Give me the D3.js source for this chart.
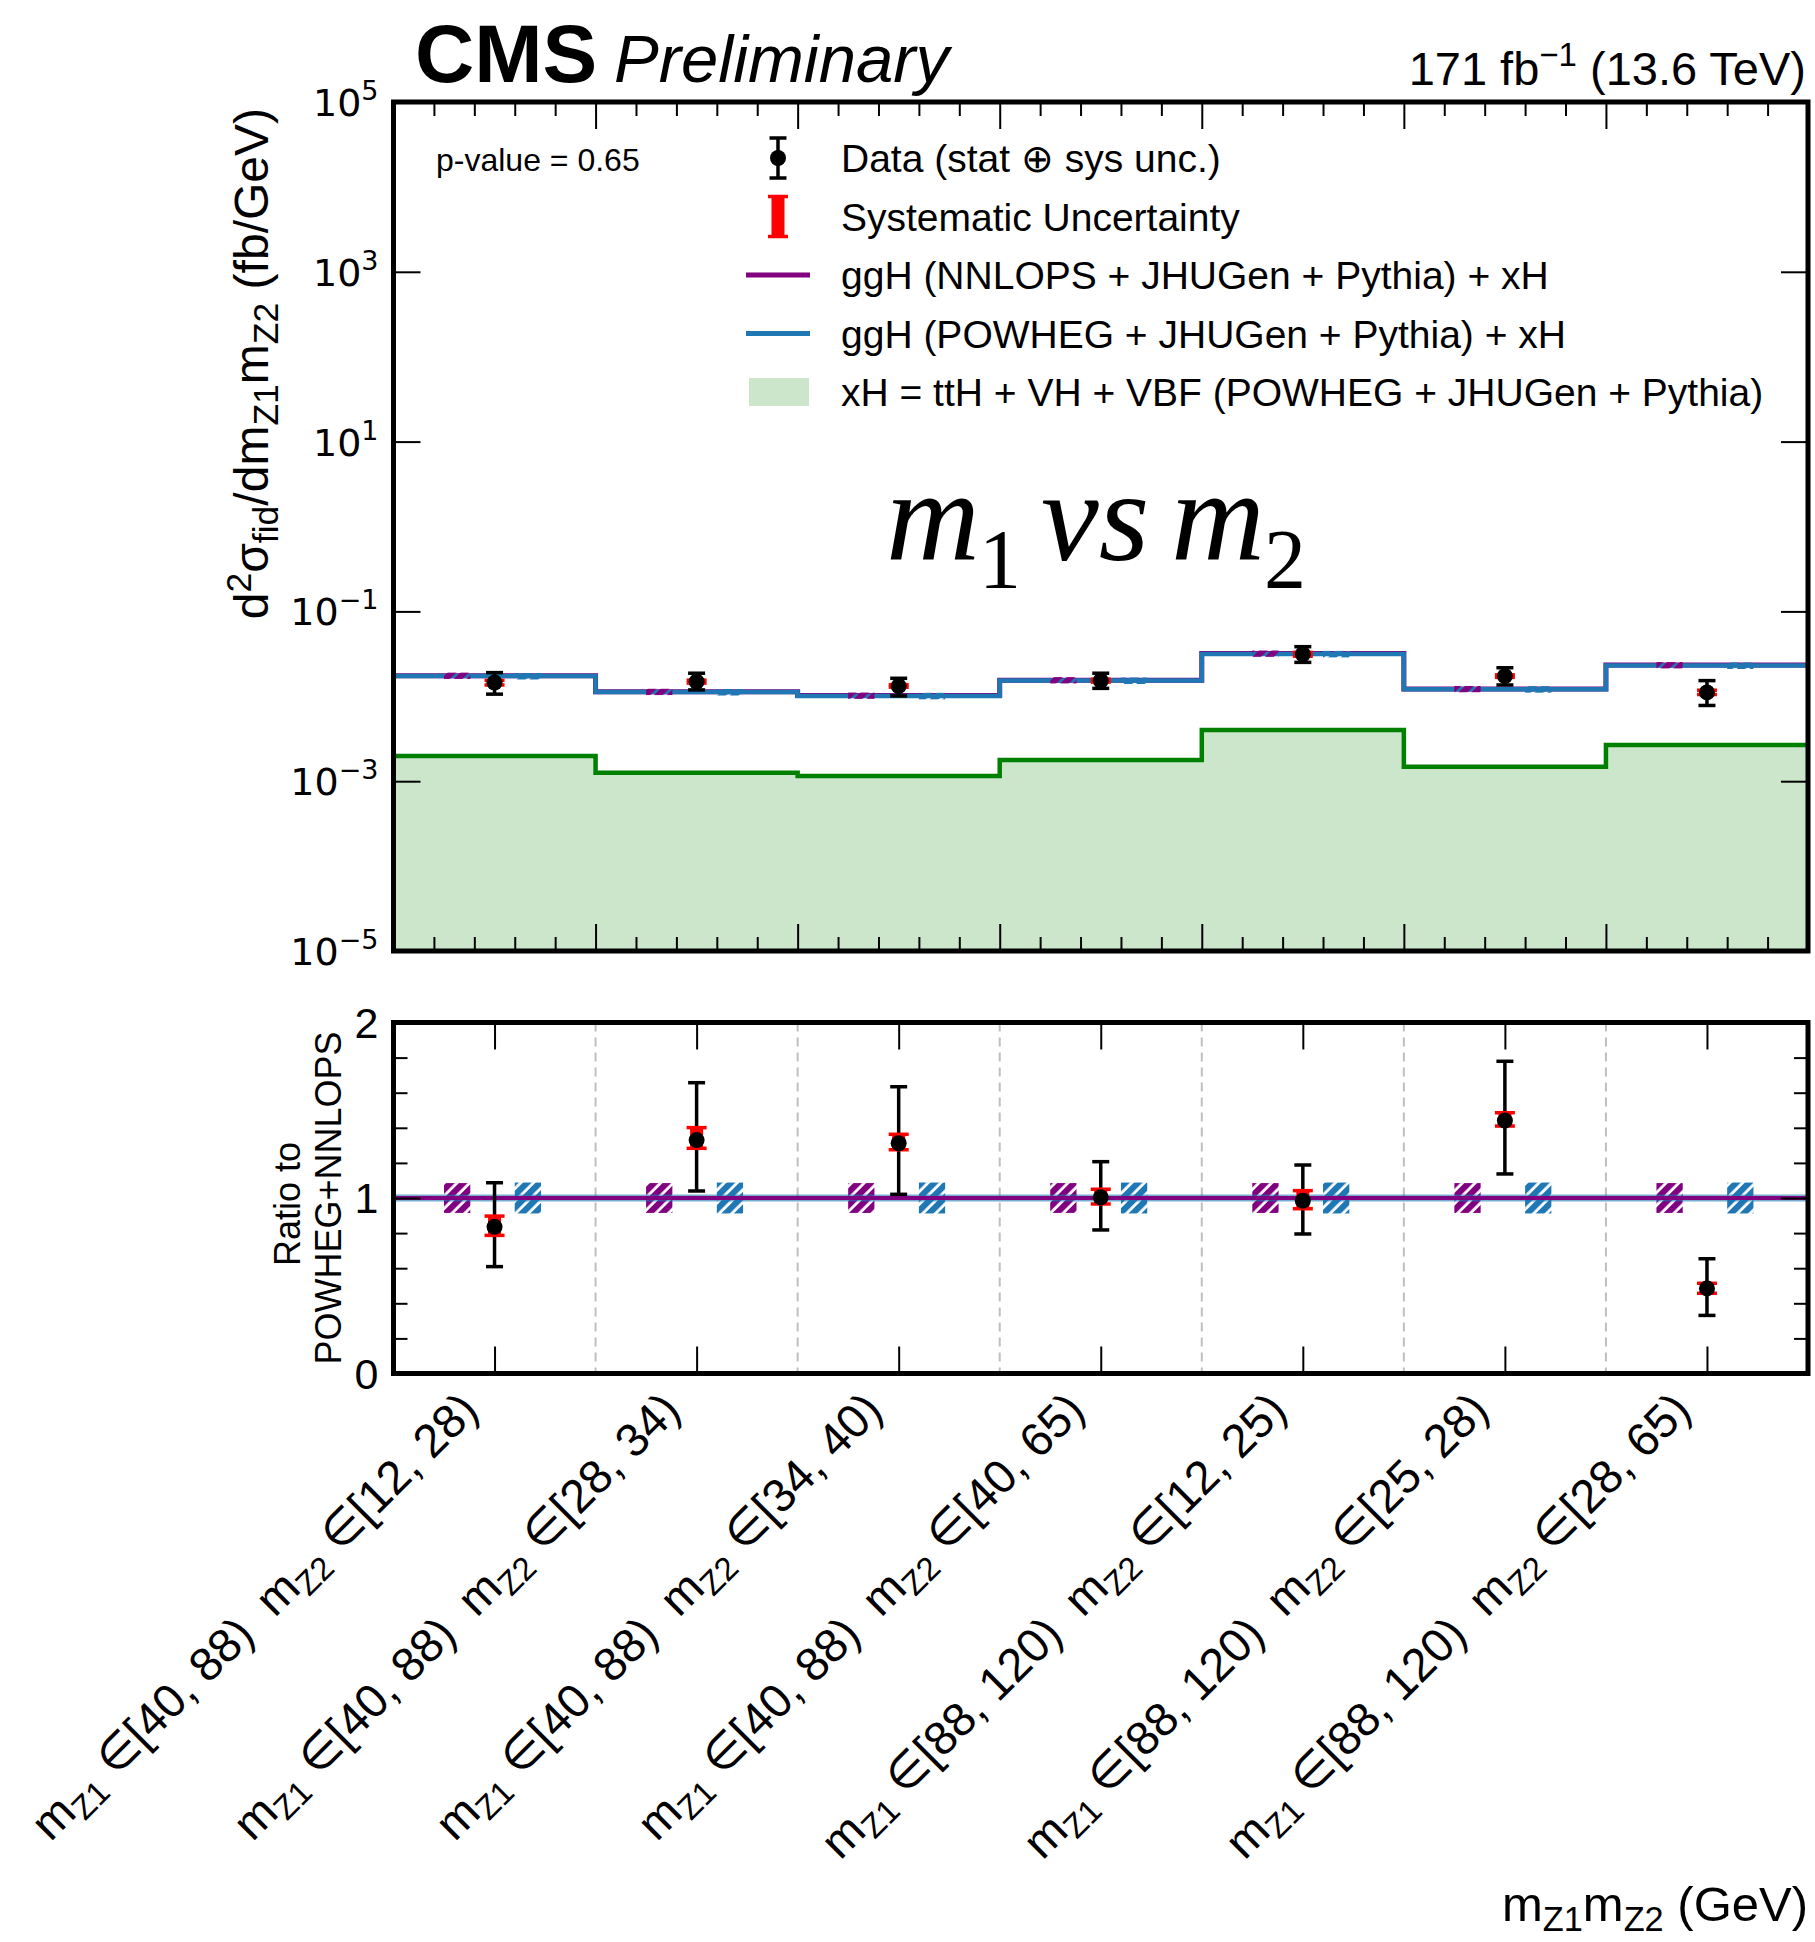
<!DOCTYPE html>
<html><head><meta charset="utf-8">
<script src="https://cdn.jsdelivr.net/npm/d3@7/dist/d3.min.js"></script>
<style>body{margin:0;background:#fff}svg{display:block}</style>
</head><body>
<svg id="c" width="1815" height="1942"></svg>
<script>
// ---------------- data ----------------
const categoriesZ1 = ["[40, 88)","[40, 88)","[40, 88)","[40, 88)","[88, 120)","[88, 120)","[88, 120)"];
const categoriesZ2 = ["[12, 28)","[28, 34)","[34, 40)","[40, 65)","[12, 25)","[25, 28)","[28, 65)"];
const binEdges = [0,1,2,3,4,5,6,7];
const powheg = [0.0173, 0.0112, 0.0101, 0.0153, 0.0315, 0.0121, 0.0230];
const nnlops = [0.0175, 0.0113, 0.0102, 0.0155, 0.0319, 0.0122, 0.0233];
const xH     = [0.00198, 0.00126, 0.00115, 0.00178, 0.00401, 0.00148, 0.00267];
const dataVal = [0.0145, 0.0149, 0.0132, 0.0153, 0.0313, 0.0173, 0.0111];
const dataLo  = [0.0106, 0.0119, 0.0101, 0.0124, 0.0251, 0.0136, 0.0078];
const dataHi  = [0.0190, 0.0187, 0.0163, 0.0187, 0.0384, 0.0217, 0.0153];
const systLo  = [0.0136, 0.0143, 0.0128, 0.0147, 0.0297, 0.0167, 0.0105];
const systHi  = [0.0154, 0.0155, 0.0137, 0.0159, 0.0329, 0.0179, 0.0118];
const ratioVal    = [0.836, 1.330, 1.312, 1.004, 0.985, 1.441, 0.485];
const ratioLo     = [0.609, 1.040, 1.021, 0.818, 0.795, 1.137, 0.331];
const ratioHi     = [1.087, 1.657, 1.634, 1.207, 1.188, 1.779, 0.654];
const ratioSystLo = [0.787, 1.283, 1.275, 0.966, 0.939, 1.410, 0.457];
const ratioSystHi = [0.897, 1.401, 1.363, 1.050, 1.042, 1.486, 0.514];
const nnlopsBandLo = [0.915, 0.915, 0.915, 0.915, 0.915, 0.915, 0.915];
const nnlopsBandHi = [1.085, 1.085, 1.085, 1.085, 1.085, 1.085, 1.085];
const powhegBandLo = [0.912, 0.912, 0.912, 0.912, 0.912, 0.912, 0.912];
const powhegBandHi = [1.088, 1.088, 1.088, 1.088, 1.088, 1.088, 1.088];
const ratioRef = 1;
const yTicksMain = [1e-5, 1e-3, 1e-1, 1e1, 1e3, 1e5];
const yTickExpMain = ["−5", "−3", "−1", "1", "3", "5"];
const yTicksRatio = [0, 1, 2];
const yTickLabelsRatio = ["0", "1", "2"];
const yMinorRatio = [0.2, 0.4, 0.6, 0.8, 1.2, 1.4, 1.6, 1.8];
const xMajorMain = [1, 2, 3, 4, 5, 6];
const xMinorMain = d3.range(0, 35).map(i => i * 0.2).filter(v => Math.abs(v - Math.round(v)) > 1e-6 && v > 0 && v < 7);
const legendLabels = ["Data (stat ⊕ sys unc.)", "Systematic Uncertainty", "ggH (NNLOPS + JHUGen + Pythia) + xH", "ggH (POWHEG + JHUGen + Pythia) + xH", "xH = ttH + VH + VBF (POWHEG + JHUGen + Pythia)"];
const pValueText = "p-value = 0.65";

// ---------------- layout ----------------
const C = {blue:"#1f77b4", purple:"#800080", green:"#008000", greenFill:"#cce6cc", red:"#ff0000"};
const X0 = 393.5, X1 = 1808, MT = 102, MB = 951, RT = 1022.5, RB = 1373.5;
const SANS = "'Liberation Sans', Arial, Helvetica, sans-serif";
const svg = d3.select("#c");
const x = d3.scaleLinear().domain([0, 7]).range([X0, X1]);
const yM = d3.scaleLog().domain([1e-5, 1e5]).range([MB, MT]);
const yR = d3.scaleLinear().domain([0, 2]).range([RB, RT]);
const centers = d3.range(7).map(i => (binEdges[i] + binEdges[i+1]) / 2);

// hatch patterns
const defs = svg.append("defs");
function hatch(id, col) {
  const p = defs.append("pattern").attr("id", id).attr("patternUnits", "userSpaceOnUse")
    .attr("width", 9).attr("height", 9).attr("patternTransform", "rotate(45)");
  p.append("rect").attr("x", 0).attr("y", 0).attr("width", 6.2).attr("height", 9).attr("fill", col);
}
hatch("hP", C.purple); hatch("hB", C.blue);
defs.append("clipPath").attr("id", "clipM").append("rect").attr("x", X0).attr("y", MT).attr("width", X1 - X0).attr("height", MB - MT);
defs.append("clipPath").attr("id", "clipR").append("rect").attr("x", X0).attr("y", RT).attr("width", X1 - X0).attr("height", RB - RT);

// ---------------- main panel ----------------
const gM = svg.append("g").attr("clip-path", "url(#clipM)");
const stepPts = arr => binEdges.map((e, i) => [e, arr[Math.min(i, arr.length - 1)]]);
const area = d3.area().curve(d3.curveStepAfter).x(d => x(d[0])).y0(yM(1e-5)).y1(d => yM(d[1]));
const line = d3.line().curve(d3.curveStepAfter).x(d => x(d[0])).y(d => yM(d[1]));
gM.append("path").attr("d", area(stepPts(xH))).attr("fill", C.greenFill);
gM.append("path").attr("d", line(stepPts(xH))).attr("fill", "none").attr("stroke", C.green).attr("stroke-width", 4.5);
gM.append("path").attr("d", line(stepPts(nnlops))).attr("fill", "none").attr("stroke", C.purple).attr("stroke-width", 5);
gM.append("path").attr("d", line(stepPts(powheg))).attr("fill", "none").attr("stroke", C.blue).attr("stroke-width", 4.5);
centers.forEach((c, i) => {
  gM.append("rect").attr("x", x(c - 0.25)).attr("width", x(c - 0.12) - x(c - 0.25))
    .attr("y", yM(nnlops[i] * nnlopsBandHi[i])).attr("height", yM(nnlops[i] * nnlopsBandLo[i]) - yM(nnlops[i] * nnlopsBandHi[i]))
    .attr("fill", "url(#hP)");
  gM.append("rect").attr("x", x(c + 0.10)).attr("width", x(c + 0.23) - x(c + 0.10))
    .attr("y", yM(powheg[i] * powhegBandHi[i])).attr("height", yM(powheg[i] * powhegBandLo[i]) - yM(powheg[i] * powhegBandHi[i]))
    .attr("fill", "url(#hB)");
});

function errPoint(g, cx, yv, ylo, yhi, slo, shi) {
  g.append("line").attr("x1", cx).attr("x2", cx).attr("y1", ylo).attr("y2", yhi).attr("stroke", "#000").attr("stroke-width", 3.5);
  [ylo, yhi].forEach(yy => g.append("line").attr("x1", cx - 8.5).attr("x2", cx + 8.5).attr("y1", yy).attr("y2", yy).attr("stroke", "#000").attr("stroke-width", 3.5));
  g.append("rect").attr("x", cx - 6.5).attr("width", 13).attr("y", Math.min(slo, shi)).attr("height", Math.abs(slo - shi)).attr("fill", C.red);
  [slo, shi].forEach(yy => g.append("line").attr("x1", cx - 10).attr("x2", cx + 10).attr("y1", yy).attr("y2", yy).attr("stroke", C.red).attr("stroke-width", 3.5));
  g.append("circle").attr("cx", cx).attr("cy", yv).attr("r", 8).attr("fill", "#000");
}
const gMD = svg.append("g");
centers.forEach((c, i) => errPoint(gMD, x(c), yM(dataVal[i]), yM(dataLo[i]), yM(dataHi[i]), yM(systLo[i]), yM(systHi[i])));

function tickAxis(axis, tx, ty) {
  const g = svg.append("g").attr("transform", `translate(${tx},${ty})`).call(axis);
  g.select(".domain").remove();
  g.selectAll("text").remove();
  g.selectAll("line").attr("stroke", "#000").attr("stroke-width", 2);
  return g;
}
tickAxis(d3.axisLeft(yM).tickValues(yTicksMain).tickSize(-27), X0, 0);
tickAxis(d3.axisRight(yM).tickValues(yTicksMain).tickSize(-27), X1, 0);
tickAxis(d3.axisTop(x).tickValues(xMajorMain).tickSize(-27), 0, MT);
tickAxis(d3.axisTop(x).tickValues(xMinorMain).tickSize(-14), 0, MT);
tickAxis(d3.axisBottom(x).tickValues(xMajorMain).tickSize(-27), 0, MB);
tickAxis(d3.axisBottom(x).tickValues(xMinorMain).tickSize(-14), 0, MB);
svg.append("rect").attr("x", X0).attr("y", MT).attr("width", X1 - X0).attr("height", MB - MT).attr("fill", "none").attr("stroke", "#000").attr("stroke-width", 5);

yTicksMain.forEach((v, i) => {
  const t = svg.append("text").attr("x", X0 - 15).attr("y", yM(v) + 14).attr("text-anchor", "end")
    .attr("font-family", "'DejaVu Sans', sans-serif").attr("font-size", 38).attr("fill", "#000");
  t.append("tspan").text("10");
  t.append("tspan").attr("font-size", 27).attr("dy", -16).text(yTickExpMain[i]);
});

// ---------------- ratio panel ----------------
const gR = svg.append("g").attr("clip-path", "url(#clipR)");
binEdges.slice(1, -1).forEach(e => gR.append("line").attr("x1", x(e)).attr("x2", x(e)).attr("y1", RT).attr("y2", RB)
  .attr("stroke", "#bfbfbf").attr("stroke-width", 2).attr("stroke-dasharray", "9,6"));
centers.forEach((c, i) => {
  gR.append("rect").attr("x", x(c - 0.25)).attr("width", x(c - 0.12) - x(c - 0.25))
    .attr("y", yR(nnlopsBandHi[i])).attr("height", yR(nnlopsBandLo[i]) - yR(nnlopsBandHi[i])).attr("fill", "url(#hP)");
  gR.append("rect").attr("x", x(c + 0.10)).attr("width", x(c + 0.23) - x(c + 0.10))
    .attr("y", yR(powhegBandHi[i])).attr("height", yR(powhegBandLo[i]) - yR(powhegBandHi[i])).attr("fill", "url(#hB)");
});
gR.append("line").attr("x1", X0).attr("x2", X1).attr("y1", yR(ratioRef)).attr("y2", yR(ratioRef)).attr("stroke", C.blue).attr("stroke-width", 7).attr("stroke-opacity", 0.6);
gR.append("line").attr("x1", X0).attr("x2", X1).attr("y1", yR(ratioRef)).attr("y2", yR(ratioRef)).attr("stroke", C.purple).attr("stroke-width", 4);
const gRD = svg.append("g");
centers.forEach((c, i) => errPoint(gRD, x(c), yR(ratioVal[i]), yR(ratioLo[i]), yR(ratioHi[i]), yR(ratioSystLo[i]), yR(ratioSystHi[i])));

tickAxis(d3.axisLeft(yR).tickValues(yTicksRatio).tickSize(-27), X0, 0);
tickAxis(d3.axisLeft(yR).tickValues(yMinorRatio).tickSize(-14), X0, 0);
tickAxis(d3.axisRight(yR).tickValues(yTicksRatio).tickSize(-27), X1, 0);
tickAxis(d3.axisRight(yR).tickValues(yMinorRatio).tickSize(-14), X1, 0);
tickAxis(d3.axisTop(x).tickValues(centers).tickSize(-27), 0, RT);
tickAxis(d3.axisBottom(x).tickValues(centers).tickSize(-27), 0, RB);
svg.append("rect").attr("x", X0).attr("y", RT).attr("width", X1 - X0).attr("height", RB - RT).attr("fill", "none").attr("stroke", "#000").attr("stroke-width", 5);

yTicksRatio.forEach((v, i) => {
  svg.append("text").attr("x", X0 - 15).attr("y", yR(v) + 15).attr("text-anchor", "end")
    .attr("font-family", SANS).attr("font-size", 43).text(yTickLabelsRatio[i]);
});

// rotated x tick labels
const XFS = 47;
centers.forEach((c, i) => {
  const t = svg.append("text").attr("transform", `translate(${x(c) - 14},${RB + 39}) rotate(-45)`)
    .attr("text-anchor", "end").attr("font-family", SANS).attr("font-size", XFS);
  t.append("tspan").text("m");
  t.append("tspan").attr("font-size", XFS * 0.7).attr("dy", XFS * 0.2).text("Z1");
  t.append("tspan").attr("dy", -XFS * 0.2).text(" ∈" + categoriesZ1[i] + "\u00a0\u00a0m");
  t.append("tspan").attr("font-size", XFS * 0.7).attr("dy", XFS * 0.2).text("Z2");
  t.append("tspan").attr("dy", -XFS * 0.2).text(" ∈" + categoriesZ2[i]);
});

// axis labels
{
  const fs = 49;
  const t = svg.append("text").attr("x", X1).attr("y", 1921).attr("text-anchor", "end").attr("font-family", SANS).attr("font-size", fs);
  t.append("tspan").text("m");
  t.append("tspan").attr("font-size", fs * 0.7).attr("dy", fs * 0.2).text("Z1");
  t.append("tspan").attr("dy", -fs * 0.2).text("m");
  t.append("tspan").attr("font-size", fs * 0.7).attr("dy", fs * 0.2).text("Z2");
  t.append("tspan").attr("dy", -fs * 0.2).text(" (GeV)");
}
{
  const fs = 48, sf = 0.74;
  const t = svg.append("text").attr("transform", `translate(268,108) rotate(-90)`).attr("text-anchor", "end").attr("font-family", SANS).attr("font-size", fs);
  t.append("tspan").text("d");
  t.append("tspan").attr("font-size", fs * sf).attr("dy", -fs * 0.35).text("2");
  t.append("tspan").attr("dy", fs * 0.35).text("σ");
  t.append("tspan").attr("font-size", fs * sf).attr("dy", fs * 0.2).text("fid");
  t.append("tspan").attr("dy", -fs * 0.2).text("/dm");
  t.append("tspan").attr("font-size", fs * sf).attr("dy", fs * 0.2).text("Z1");
  t.append("tspan").attr("dy", -fs * 0.2).text("m");
  t.append("tspan").attr("font-size", fs * sf).attr("dy", fs * 0.2).text("Z2");
  t.append("tspan").attr("dy", -fs * 0.2).text(" (fb/GeV)");
}
svg.append("text").attr("transform", `translate(300,${(RT + RB) / 2 + 6}) rotate(-90)`).attr("text-anchor", "middle").attr("font-family", SANS).attr("font-size", 36).text("Ratio to");
svg.append("text").attr("transform", `translate(341,${(RT + RB) / 2}) rotate(-90)`).attr("text-anchor", "middle").attr("font-family", SANS).attr("font-size", 36).text("POWHEG+NNLOPS");

// header
svg.append("text").attr("x", 415).attr("y", 82).attr("font-family", SANS).attr("font-weight", "bold").attr("font-size", 82).text("CMS");
svg.append("text").attr("x", 614).attr("y", 82).attr("font-family", SANS).attr("font-style", "italic").attr("font-size", 67).text("Preliminary");
{
  const t = svg.append("text").attr("x", X1 - 2).attr("y", 85).attr("text-anchor", "end").attr("font-family", SANS).attr("font-size", 47);
  t.append("tspan").text("171 fb");
  t.append("tspan").attr("font-size", 33).attr("dy", -19).text("−1");
  t.append("tspan").attr("dy", 19).text(" (13.6 TeV)");
}

// big annotation
{
  const t = svg.append("text").attr("y", 560).attr("font-family", "'Liberation Serif', 'Times New Roman', serif").attr("font-size", 130);
  t.append("tspan").attr("x", 886).attr("font-style", "italic").text("m");
  t.append("tspan").attr("x", 979).attr("dy", 28).attr("font-size", 84).text("1");
  t.append("tspan").attr("x", 1041).attr("dy", -28).attr("font-style", "italic").text("vs");
  t.append("tspan").attr("x", 1171).attr("font-style", "italic").text("m");
  t.append("tspan").attr("x", 1264).attr("dy", 28).attr("font-size", 84).text("2");
}

// p-value & legend
svg.append("text").attr("x", 436).attr("y", 171).attr("font-family", SANS).attr("font-size", 32).text(pValueText);
const LX = 778, TX = 841, rowsY = [172, 230.5, 289, 347.5, 406];
const gL = svg.append("g");
legendLabels.forEach((lab, i) => gL.append("text").attr("x", TX).attr("y", rowsY[i]).attr("font-family", SANS).attr("font-size", 39).text(lab));
{
  const cy = rowsY[0] - 14;
  gL.append("line").attr("x1", LX).attr("x2", LX).attr("y1", cy - 20).attr("y2", cy + 20).attr("stroke", "#000").attr("stroke-width", 3.5);
  [cy - 20, cy + 20].forEach(yy => gL.append("line").attr("x1", LX - 8.5).attr("x2", LX + 8.5).attr("y1", yy).attr("y2", yy).attr("stroke", "#000").attr("stroke-width", 3.5));
  gL.append("circle").attr("cx", LX).attr("cy", cy).attr("r", 8);
  const cy2 = rowsY[1] - 14;
  gL.append("rect").attr("x", LX - 6.5).attr("width", 13).attr("y", cy2 - 20).attr("height", 40).attr("fill", C.red);
  [cy2 - 20, cy2 + 20].forEach(yy => gL.append("line").attr("x1", LX - 10).attr("x2", LX + 10).attr("y1", yy).attr("y2", yy).attr("stroke", C.red).attr("stroke-width", 3.5));
  gL.append("line").attr("x1", 746).attr("x2", 810).attr("y1", rowsY[2] - 14).attr("y2", rowsY[2] - 14).attr("stroke", C.purple).attr("stroke-width", 5);
  gL.append("line").attr("x1", 746).attr("x2", 810).attr("y1", rowsY[3] - 14).attr("y2", rowsY[3] - 14).attr("stroke", C.blue).attr("stroke-width", 5);
  gL.append("rect").attr("x", 749).attr("y", rowsY[4] - 28).attr("width", 60).attr("height", 28).attr("fill", C.greenFill);
}
</script>
</body></html>
